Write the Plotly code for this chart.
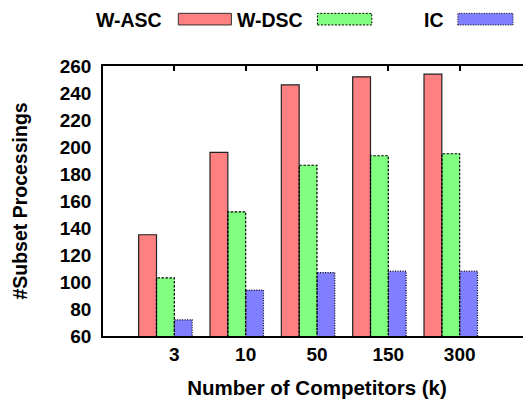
import plotly.graph_objects as go

categories = ["3", "10", "50", "150", "300"]
w_asc = [135, 196, 246, 252, 254]
w_dsc = [103, 152, 186.5, 193.5, 195]
ic = [72, 94, 107, 108, 108]

series = [
    ("W-ASC", w_asc, "#ff8080", "solid", -0.5),
    ("W-DSC", w_dsc, "#80ff80", "2.5px,1.5px", -0.25),
    ("IC", ic, "#8080ff", "1px,1.5px", 0.0),
]
bar_w = 0.25
idx = list(range(len(categories)))
FONT = "Liberation Sans, Arial, Helvetica, sans-serif"

fig = go.Figure()
for name, vals, color, dash, off in series:
    fig.add_trace(go.Bar(x=idx, y=vals, offset=off, width=bar_w, name=name,
                         marker=dict(color=color, line=dict(width=0)),
                         showlegend=False))
    xs, ys = [], []
    for i, v in zip(idx, vals):
        x0, x1 = i + off, i + off + bar_w
        xs += [x0, x0, x1, x1, x0, None]
        ys += [0, v, v, 0, 0, None]
    fig.add_trace(go.Scatter(x=xs, y=ys, mode="lines", showlegend=False,
                             hoverinfo="skip", cliponaxis=True,
                             line=dict(color="#222222" if dash == "solid" else "black",
                                       width=1.2, dash=dash)))

# dummy trace to create overlay axes for mirrored ticks
fig.add_trace(go.Scatter(x=[None], y=[None], xaxis="x2", yaxis="y2", showlegend=False))

xr = [-1, 5]
yr = [60, 260]
tickfont = dict(family=FONT, size=19, color="black", weight="bold")
fig.update_layout(
    width=523, height=393,
    margin=dict(l=95, r=0, t=58, b=65, autoexpand=False),
    paper_bgcolor="white", plot_bgcolor="white",
    showlegend=False,
    xaxis=dict(range=xr, tickvals=idx, ticktext=categories, ticks="", automargin=False,
               showline=True, linecolor="black", linewidth=1.5, mirror=True,
               showgrid=False, zeroline=False, tickfont=tickfont,
               title=dict(text="Number of Competitors (k)", standoff=17,
                          font=dict(family=FONT, size=20.5, color="black", weight="bold"))),
    yaxis=dict(range=yr, tickvals=list(range(60, 261, 20)), ticks="", automargin=False,
               showline=True, linecolor="black", linewidth=1.5, mirror=True,
               showgrid=False, zeroline=False, tickfont=tickfont, ticklabelstandoff=6,
               title=dict(text="#Subset Processings", standoff=27,
                          font=dict(family=FONT, size=19.5, color="black", weight="bold"))),
    xaxis2=dict(range=xr, overlaying="x", side="top", tickvals=idx, ticks="inside",
                ticklen=5, tickwidth=1.5, tickcolor="black", showticklabels=False,
                showgrid=False, zeroline=False, showline=False, automargin=False),
    yaxis2=dict(range=yr, overlaying="y", side="right", tickvals=list(range(60, 261, 20)),
                ticks="inside", ticklen=3, tickwidth=1.5, tickcolor="#555555", automargin=False,
                showticklabels=False, showgrid=False, zeroline=False, showline=False),
)

# manual gnuplot-style legend (text then swatch)
legend_items = [
    ("W-ASC", 0.143, (0.176, 0.300), "#ff8080", "solid", "#333333"),
    ("W-DSC", 0.471, (0.501, 0.628), "#80ff80", "2px,1.5px", "black"),
    ("IC", 0.801, (0.829, 0.958), "#8080ff", "1px,1.5px", "black"),
]
for text, tx, (sx0, sx1), color, dash, lc in legend_items:
    fig.add_annotation(x=tx, y=1.171, xref="paper", yref="paper", text=text,
                       showarrow=False, xanchor="right", yanchor="middle",
                       font=dict(family=FONT, size=19.5, color="black", weight="bold"))
    fig.add_shape(type="rect", xref="paper", yref="paper", x0=sx0, x1=sx1,
                  y0=1.152, y1=1.195, fillcolor=color,
                  line=dict(color=lc, width=1, dash=dash))

fig.write_html("out.html")
